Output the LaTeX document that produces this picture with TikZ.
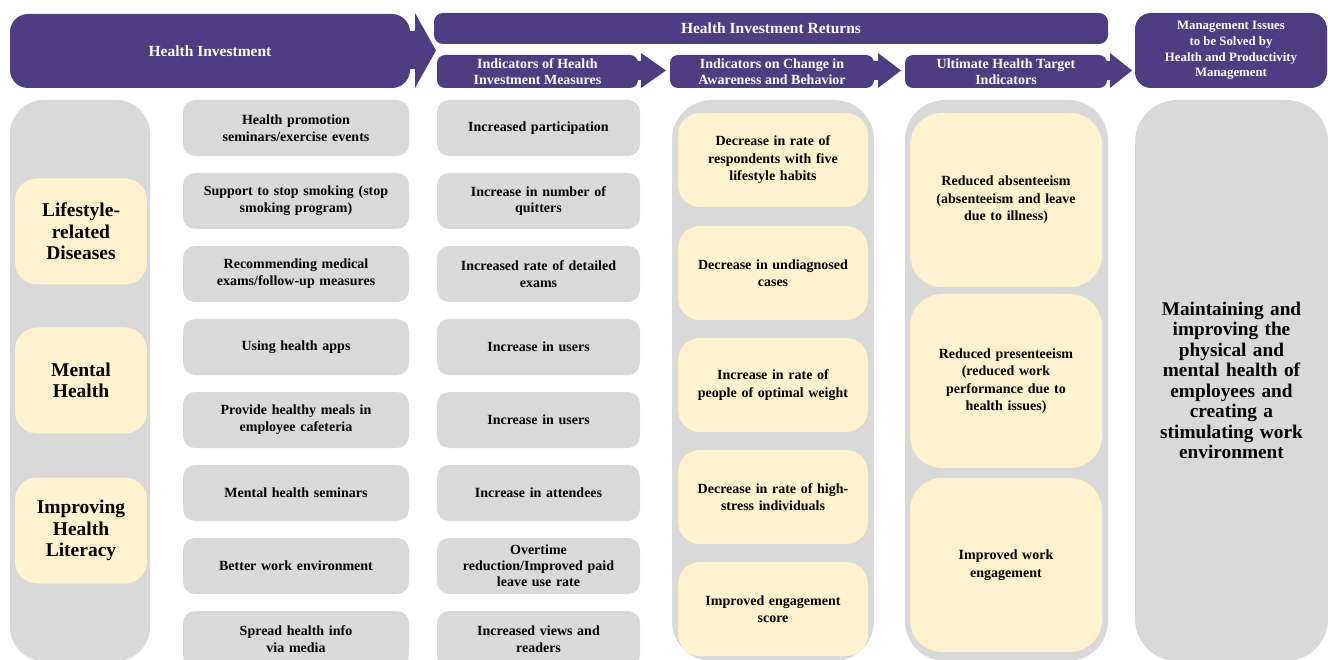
\documentclass[tikz,border=0pt]{standalone}
\usepackage{fontspec}
\setmainfont{Liberation Serif}
\definecolor{hpurple}{HTML}{4E3D82}
\definecolor{hgray}{HTML}{D9D9D9}
\definecolor{hyellow}{HTML}{FFF2CC}
\begin{document}
\begin{tikzpicture}[x=1pt,y=-1pt,
  banner/.style={fill=hpurple, text=white, align=center, inner sep=0pt,
    font=\bfseries\fontsize{14}{16.5}\selectfont},
  container/.style={fill=hgray, inner sep=0pt},
  gbox/.style={fill=hgray, rounded corners=12pt, minimum height=56pt, inner sep=0pt,
    align=center, font=\bfseries\fontsize{14}{16.8}\selectfont},
  ybox/.style={fill=hyellow, inner sep=0pt, align=center,
    font=\bfseries\fontsize{14}{17.5}\selectfont},
  bigy/.style={ybox, rounded corners=22pt, minimum width=132pt, minimum height=106pt,
    text width=126pt, font=\bfseries\fontsize{19.5}{21.5}\selectfont},
  harrow/.style={fill=hpurple}
]
\useasboundingbox (0,0) rectangle (1328,660);

% ---------- header ----------
\node[banner, rounded corners=18pt, minimum width=400pt, minimum height=74pt,
  font=\bfseries\fontsize{15.5}{18}\selectfont] (hi) at (210,51) {Health Investment};
\fill[harrow] (404,31) -- (415,31) -- (415,13) -- (436,50.5) -- (415,88) -- (415,69) -- (404,69) -- cycle;

\node[banner, rounded corners=9pt, minimum width=674pt, minimum height=31pt,
  font=\bfseries\fontsize{15.5}{18}\selectfont] (hir) at (771,28.5) {Health Investment Returns};

\node[banner, rounded corners=8pt, minimum width=201pt, minimum height=33pt] (h1) at (537.5,71.5)
  {Indicators of Health\\Investment Measures};
\fill[harrow] (632,61) -- (641,61) -- (641,53) -- (666,70.5) -- (641,88) -- (641,80) -- (632,80) -- cycle;

\node[banner, rounded corners=8pt, minimum width=204pt, minimum height=33pt] (h2) at (772,71.5)
  {Indicators on Change in\\Awareness and Behavior};
\fill[harrow] (868,61) -- (878,61) -- (878,53) -- (901,70.5) -- (878,88) -- (878,80) -- (868,80) -- cycle;

\node[banner, rounded corners=8pt, minimum width=202pt, minimum height=33pt] (h3) at (1006,71.5)
  {Ultimate Health Target\\Indicators};
\fill[harrow] (1101,61) -- (1110,61) -- (1110,53) -- (1132,70.5) -- (1110,88) -- (1110,80) -- (1101,80) -- cycle;

\node[banner, rounded corners=16pt, minimum width=192pt, minimum height=75pt,
  font=\bfseries\fontsize{12.8}{15.6}\selectfont] (h4) at (1231,50.5)
  {Management Issues\\to be Solved by\\Health and Productivity\\Management};

% ---------- containers ----------
\fill[hgray, rounded corners=34pt] (10,100) rectangle (150,661);
\fill[hgray, rounded corners=40pt] (672,100) rectangle (874,661);
\fill[hgray, rounded corners=40pt] (905,100) rectangle (1108,661);
\node[container, rounded corners=42pt, minimum width=193pt, minimum height=561pt,
  align=center, text width=185pt, font=\bfseries\fontsize{19.3}{20.5}\selectfont]
  (goal) at (1231.5,380.5)
  {Maintaining and\\improving the\\physical and\\mental health of\\employees and\\creating a\\stimulating work\\environment};

% ---------- column 1 ----------
\node[bigy] (c1a) at (81,231.5) {Lifestyle-\\related\\Diseases};
\node[bigy] (c1b) at (81,380.5) {Mental\\Health};
\node[bigy] (c1c) at (81,530.5) {Improving\\Health\\Literacy};

% ---------- column 2 ----------
\tikzset{g2/.style={gbox, minimum width=226pt, text width=220pt}}
\node[g2] (m1) at (296,128) {Health promotion\\seminars/exercise events};
\node[g2] (m2) at (296,201) {Support to stop smoking (stop\\smoking program)};
\node[g2] (m3) at (296,274) {Recommending medical\\exams/follow-up measures};
\node[g2] (m4) at (296,347) {Using health apps};
\node[g2] (m5) at (296,420) {Provide healthy meals in\\employee cafeteria};
\node[g2] (m6) at (296,493) {Mental health seminars};
\node[g2] (m7) at (296,566) {Better work environment};
\node[g2] (m8) at (296,639) {Spread health info\\via media};

% ---------- column 3 ----------
\tikzset{g3/.style={gbox, minimum width=203pt, text width=198pt}}
\node[g3] (i1) at (538.5,128) {Increased participation};
\node[g3] (i2) at (538.5,201) {Increase in number of\\quitters};
\node[g3] (i3) at (538.5,274) {Increased rate of detailed\\exams};
\node[g3] (i4) at (538.5,347) {Increase in users};
\node[g3] (i5) at (538.5,420) {Increase in users};
\node[g3] (i6) at (538.5,493) {Increase in attendees};
\node[g3, font=\bfseries\fontsize{14}{16}\selectfont] (i7) at (538.5,566) {Overtime\\reduction/Improved paid\\leave use rate};
\node[g3] (i8) at (538.5,639) {Increased views and\\readers};

% ---------- column 4 ----------
\tikzset{y4/.style={ybox, rounded corners=22pt, minimum width=190pt, minimum height=94pt, text width=186pt}}
\node[y4] (a1) at (773,160) {Decrease in rate of\\respondents with five\\lifestyle habits};
\node[y4] (a2) at (773,273) {Decrease in undiagnosed\\cases};
\node[y4] (a3) at (773,385) {Increase in rate of\\people of optimal weight};
\node[y4] (a4) at (773,497) {Decrease in rate of high-\\stress individuals};
\node[y4] (a5) at (773,609) {Improved engagement\\score};

% ---------- column 5 ----------
\tikzset{y5/.style={ybox, rounded corners=32pt, minimum width=192pt, minimum height=174pt, text width=186pt}}
\node[y5] (u1) at (1006,200) {Reduced absenteeism\\(absenteeism and leave\\due to illness)};
\node[y5] (u2) at (1006,381) {Reduced presenteeism\\(reduced work\\performance due to\\health issues)};
\node[y5] (u3) at (1006,565) {Improved work\\engagement};
\end{tikzpicture}
\end{document}
